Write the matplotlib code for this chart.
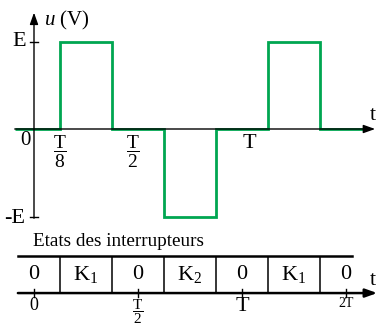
import matplotlib
matplotlib.use('Agg')
import matplotlib.pyplot as plt
import numpy as np

plt.rcParams['font.family'] = 'Liberation Serif'
plt.rcParams['mathtext.fontset'] = 'custom'
plt.rcParams['mathtext.rm'] = 'Liberation Serif'
plt.rcParams['mathtext.it'] = 'Liberation Serif:italic'

# switching instants (in units of T/4, offset by T/8) and voltage levels (in E)
edges = [0.5, 1.5, 2.5, 3.5, 4.5, 5.5]
levels = [0, 1, 0, -1, 0, 1, 0]
t_start, t_end = -0.37, 6.37

# switch states, one per time slot
state_pos = [0, 1, 2, 3, 4, 5, 6]
states = ['0', r'K$_1$', '0', r'K$_2$', '0', r'K$_1$', '0']

# time labels on the voltage axis
top_tick_pos = [0.5, 1.9, 4.15]
top_tick_lab = [r'$\dfrac{\mathrm{T}}{8}$', r'$\dfrac{\mathrm{T}}{2}$', 'T']

# time ticks on the switch-state axis
bot_tick_pos = [0, 2, 4, 6]
bot_tick_lab = ['0', r'$\dfrac{\mathrm{T}}{2}$', 'T', '2T']
bot_tick_size = [13, 11, 16, 10]

green = '#00a651'
row_top, row_bot = -1.45, -1.875

fig = plt.figure(figsize=(3.79, 3.30), dpi=100)
ax = fig.add_axes([0, 0, 1, 1])
ax.set_xlim(-34 / 52, 345 / 52)
ax.set_ylim(-201 / 87.5, 129 / 87.5)
ax.axis('off')

arrow = dict(arrowstyle='-|>,head_length=0.7,head_width=0.25', color='black',
             lw=1.0, shrinkA=0, shrinkB=0)

# voltage axes
ax.annotate('', xy=(6.56, 0), xytext=(-0.37, 0), arrowprops=arrow)
ax.annotate('', xy=(0, 1.33), xytext=(0, -1.02), arrowprops=arrow)
for v in [1, -1]:
    ax.plot([-0.08, 0.08], [v, v], color='black', lw=1.0)

# u(t) waveform
ax.stairs(levels, np.r_[t_start, edges, t_end], baseline=None, color=green, lw=2.0)

ax.text(0.2, 1.24, r'$u$ (V)', fontsize=15, ha='left', va='center')
ax.text(-0.28, 1.0, 'E', fontsize=16, ha='center', va='center')
ax.text(-0.38, -1.02, '-E', fontsize=16, ha='center', va='center')
ax.text(-0.17, -0.13, '0', fontsize=15, ha='center', va='center')
ax.text(6.52, 0.16, 't', fontsize=16, ha='center', va='center')
for x, lab in zip(top_tick_pos, top_tick_lab):
    ax.text(x, -0.06, lab, fontsize=14 if 'frac' in lab else 16, ha='center', va='top')

# switch-state chart
ax.text(-0.02, -1.29, 'Etats des interrupteurs', fontsize=13.8, ha='left', va='center')
ax.plot([-0.31, 6.12], [row_top, row_top], color='black', lw=1.8)
ax.annotate('', xy=(6.6, row_bot), xytext=(-0.31, row_bot),
            arrowprops=dict(arrow, lw=1.8))
ax.vlines(edges, row_bot, row_top, color='black', lw=1.1)
for x, s in zip(state_pos, states):
    ax.text(x, (row_top + row_bot) / 2, s, fontsize=16, ha='center', va='center')
ax.text(6.52, -1.73, 't', fontsize=16, ha='center', va='center')
for x, lab, fs in zip(bot_tick_pos, bot_tick_lab, bot_tick_size):
    ax.plot([x, x], [row_bot - 0.045, row_bot + 0.045], color='black', lw=1.0)
    ax.text(x, row_bot - 0.05, lab, fontsize=fs, ha='center', va='top')

fig.savefig('out.png', dpi=100)
